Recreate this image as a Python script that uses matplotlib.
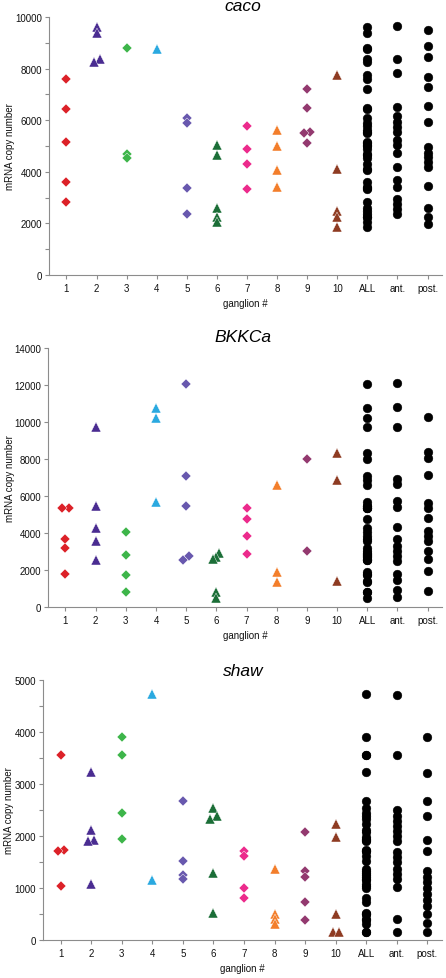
import matplotlib
matplotlib.use("Agg")
import matplotlib.pyplot as plt
import numpy as np
from matplotlib.ticker import MultipleLocator

plt.rcParams['font.family'] = ['Liberation Sans', 'DejaVu Sans']

# ---------------- data ----------------
categories = ["1", "2", "3", "4", "5", "6", "7", "8", "9", "10", "ALL", "ant.", "post."]
group_colors = ["#DC2128", "#4A2C91", "#3DB54A", "#2AA9E0", "#6858AE",
                "#1B6E37", "#EC2A8C", "#F37E2B", "#93396F", "#8E3B22"]
group_markers = ["D", "^", "D", "^", "D", "^", "D", "^", "D", "^"]

caco_groups = [
    [7613, 6439, 5161, 3600, 2839],
    [9626, 9394, 8361, 8258],
    [8813, 4684, 4516],
    [8774],
    [6077, 5910, 3368, 2361],
    [5058, 4632, 2606, 2258, 2065],
    [5781, 4890, 4284, 3329],
    [5613, 5006, 4065, 3394],
    [7200, 6465, 5548, 5523, 5135],
    [7768, 4090, 2477, 2232, 1871],
]
caco_ant = [9652, 8361, 7845, 6516, 6168, 5948, 5742, 5561, 5226, 5045, 4748,
            4168, 3690, 3394, 2942, 2748, 2555, 2361]
caco_post = [9484, 8877, 8452, 7677, 7290, 6555, 5948, 4942, 4748, 4555, 4361,
             4168, 3432, 2594, 2232, 1974]

bkkca_groups = [
    [5340, 5340, 3662, 3157, 1768],
    [9706, 5466, 4258, 3572, 2544],
    [4023, 2796, 1714, 812],
    [10753, 10193, 5647],
    [12051, 7090, 5466, 2724, 2544],
    [2900, 2700, 2600, 780, 450],
    [5340, 4763, 3807, 2850],
    [6603, 1858, 1353],
    [7974, 2994],
    [8299, 6856, 1407],
]
bkkca_ant = [12088, 10800, 9730, 6910, 6640, 5700, 5400, 4297, 3680, 3300, 3030,
             2760, 2500, 1770, 1440, 880, 500]
bkkca_post = [10240, 8398, 8037, 7143, 5590, 5336, 4796, 4112, 3842, 3572, 3030,
              2581, 1915, 833]

shaw_groups = [
    [3564, 1737, 1705, 1032],
    [3224, 2122, 1923, 1897, 1077],
    [3904, 3564, 2449, 1942],
    [4731, 1160],
    [2667, 1526, 1256, 1173],
    [2538, 2391, 2327, 1282, 513],
    [1705, 1622, 994, 808],
    [1365, 500, 404, 308],
    [2071, 1321, 1205, 724, 385],
    [2231, 1974, 500, 147, 147],
]
shaw_ant = [4718, 3558, 2500, 2391, 2295, 2199, 2103, 2006, 1910, 1686, 1590,
            1494, 1365, 1269, 1173, 1026, 404, 147]
shaw_post = [3897, 3205, 2679, 2378, 1923, 1718, 1333, 1218, 1109, 1000, 885,
             769, 660, 500, 321, 147]

# ---------------- layout ----------------
W, H = 446, 979
fig = plt.figure(figsize=(W / 100, H / 100), dpi=100)

panels = [
    dict(title="caco", groups=caco_groups, ant=caco_ant, post=caco_post,
         ymax=10000, major=2000, minor=1000, box=(49, 18, 442, 276),
         ylab_x=-0.099, title_x=0.494, title_y=1.043),
    dict(title="BKKCa", groups=bkkca_groups, ant=bkkca_ant, post=bkkca_post,
         ymax=14000, major=2000, minor=None, box=(48, 349, 442, 607.7),
         ylab_x=-0.096, title_x=0.494, title_y=1.043),
    dict(title="shaw", groups=shaw_groups, ant=shaw_ant, post=shaw_post,
         ymax=5000, major=1000, minor=500, box=(43, 681, 442, 941),
         ylab_x=-0.085, title_x=0.501, title_y=1.038),
]

AXC = "#8c8c8c"


def dodge(vals, ymax, step=0.1, thr=0.015):
    vals = np.asarray(vals, dtype=float)
    offs = np.zeros(len(vals))
    if len(vals) == 0:
        return offs
    order = np.argsort(vals)
    clusters, cur = [], [order[0]]
    for a, b in zip(order[:-1], order[1:]):
        if abs(vals[b] - vals[a]) < thr * ymax:
            cur.append(b)
        else:
            clusters.append(cur)
            cur = [b]
    clusters.append(cur)
    for c in clusters:
        n = len(c)
        if n > 1:
            o = np.linspace(-step, step, n)
            for idx, oo in zip(c, o):
                offs[idx] = oo
    return offs


for p in panels:
    l, t, r, b = p["box"]
    ax = fig.add_axes([l / W, 1 - b / H, (r - l) / W, (b - t) / H])
    ymax = p["ymax"]
    xs = np.arange(1, len(categories) + 1)

    for i, vals in enumerate(p["groups"]):
        offs = dodge(vals, ymax)
        m = group_markers[i]
        ms = 5.0 if m == "D" else 7.3
        ax.plot(xs[i] + offs, vals, linestyle="none", marker=m, ms=ms,
                color=group_colors[i], mec="white", mew=0.3, clip_on=False, zorder=3)

    all_vals = np.concatenate([np.asarray(g, float) for g in p["groups"]])
    for xi, vals in zip(xs[10:], [all_vals, p["ant"], p["post"]]):
        ax.plot(np.full(len(vals), xi), vals, linestyle="none", marker="o", ms=6.3,
                color="black", mec="black", mew=0.3, clip_on=False, zorder=3)

    ax.set_xlim(0.42, 13.48)
    ax.set_ylim(0, ymax)
    ax.set_xticks(xs)
    ax.set_xticklabels(categories)
    ax.yaxis.set_major_locator(MultipleLocator(p["major"]))
    if p["minor"]:
        ax.yaxis.set_minor_locator(MultipleLocator(p["minor"]))
    for s in ["top", "right"]:
        ax.spines[s].set_visible(False)
    for s in ["left", "bottom"]:
        ax.spines[s].set_color(AXC)
        ax.spines[s].set_linewidth(0.8)
    ax.tick_params(axis="both", which="both", direction="out", length=3, width=0.8,
                   color=AXC, labelsize=7, pad=2, labelcolor="#111111")
    ax.tick_params(axis="x", pad=3)

    ax.text(p["title_x"], p["title_y"], p["title"], transform=ax.transAxes,
            ha="center", va="center", fontsize=12.5, style="italic")
    ax.text(p["ylab_x"], 0.5, "mRNA copy number", transform=ax.transAxes,
            rotation=90, ha="center", va="center", fontsize=7, color="#111111")
    ax.text(0.5, -0.108, "ganglion #", transform=ax.transAxes,
            ha="center", va="center", fontsize=7, color="#111111")

fig.savefig("out.png", dpi=100)
